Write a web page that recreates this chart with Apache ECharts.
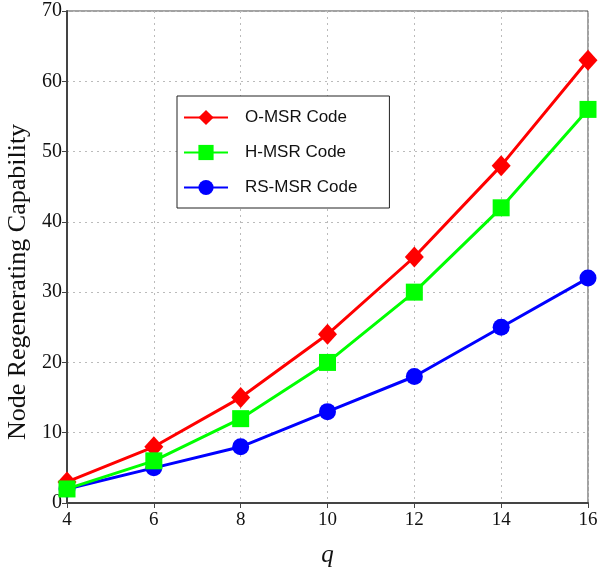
<!DOCTYPE html>
<html>
<head>
<meta charset="utf-8">
<script src="https://cdn.jsdelivr.net/npm/echarts@6/dist/echarts.min.js"></script>
<style>
  html, body { margin: 0; padding: 0; background: #fff; }
  #chart { width: 598px; height: 570px; }
</style>
</head>
<body>
<div id="chart"></div>
<script>
// x 轴 q 值
var qValues = [4, 6, 8, 10, 12, 14, 16]
// 各编码的节点再生能力
var oMsr = [3, 8, 15, 24, 35, 48, 63]
var hMsr = [2, 6, 12, 20, 30, 42, 56]
var rsMsr = [2, 5, 8, 13, 18, 25, 32]
var seriesNames = ['O-MSR Code', 'H-MSR Code', 'RS-MSR Code']

function pairs(vals) {
  var out = []
  for (var i = 0; i < qValues.length; i++) {
    out.push([qValues[i], vals[i]])
  }
  return out
}

var myChart = echarts.init(document.getElementById('chart'))
var option = {
  animation: false,
  backgroundColor: '#fff',
  grid: {
    left: 67,
    right: 10,
    top: 11,
    bottom: 67,
    outerBoundsMode: 'none',
    containLabel: false,
    show: true,
    borderColor: '#444',
    borderWidth: 1
  },
  legend: {
    data: seriesNames,
    orient: 'vertical',
    left: 177,
    top: 96,
    padding: [12, 32, 11, 6],
    itemGap: 16,
    itemWidth: 44,
    itemHeight: 19,
    backgroundColor: '#fff',
    borderColor: '#222',
    borderWidth: 1,
    textStyle: {
      fontFamily: 'Liberation Sans',
      fontSize: 17,
      lineHeight: 19,
      color: '#111',
      padding: [0, 0, 0, 12]
    }
  },
  xAxis: {
    type: 'value',
    min: 4,
    max: 16,
    interval: 2,
    name: 'q',
    nameLocation: 'middle',
    nameGap: 40,
    nameTextStyle: {
      fontFamily: 'Liberation Serif',
      fontStyle: 'italic',
      fontSize: 25,
      color: '#111'
    },
    axisLine: { lineStyle: { color: '#444', width: 2 } },
    axisTick: { show: true, length: 5, inside: false, lineStyle: { color: '#444' } },
    axisLabel: {
      fontFamily: 'Liberation Serif',
      fontSize: 19,
      color: '#111',
      margin: 8
    },
    splitLine: {
      show: true,
      lineStyle: { color: '#bbb', type: [2, 4], width: 1 }
    }
  },
  yAxis: {
    type: 'value',
    min: 0,
    max: 70,
    interval: 10,
    name: 'Node Regenerating Capability',
    nameLocation: 'middle',
    nameGap: 33,
    nameTextStyle: {
      fontFamily: 'Liberation Serif',
      fontSize: 26,
      color: '#111',
      padding: [0, 50, 0, 0]
    },
    axisLine: { show: true, lineStyle: { color: '#444', width: 2 } },
    axisTick: { show: true, length: 5, lineStyle: { color: '#444' } },
    axisLabel: {
      fontFamily: 'Liberation Serif',
      fontSize: 20,
      color: '#111',
      margin: 5
    },
    splitLine: {
      show: true,
      lineStyle: { color: '#bbb', type: [2, 4], width: 1 }
    }
  },
  series: [
    {
      name: 'RS-MSR Code',
      type: 'line',
      data: pairs(rsMsr),
      symbol: 'circle',
      symbolSize: 17,
      lineStyle: { color: '#0000ff', width: 3 },
      itemStyle: { color: '#0000ff' },
      z: 2
    },
    {
      name: 'O-MSR Code',
      type: 'line',
      data: pairs(oMsr),
      symbol: 'diamond',
      symbolSize: [19, 21],
      lineStyle: { color: '#ff0000', width: 3 },
      itemStyle: { color: '#ff0000' },
      z: 3
    },
    {
      name: 'H-MSR Code',
      type: 'line',
      data: pairs(hMsr),
      symbol: 'rect',
      symbolSize: 17,
      lineStyle: { color: '#00ff00', width: 3 },
      itemStyle: { color: '#00ff00' },
      z: 4
    }
  ]
}
myChart.setOption(option)
</script>
</body>
</html>
